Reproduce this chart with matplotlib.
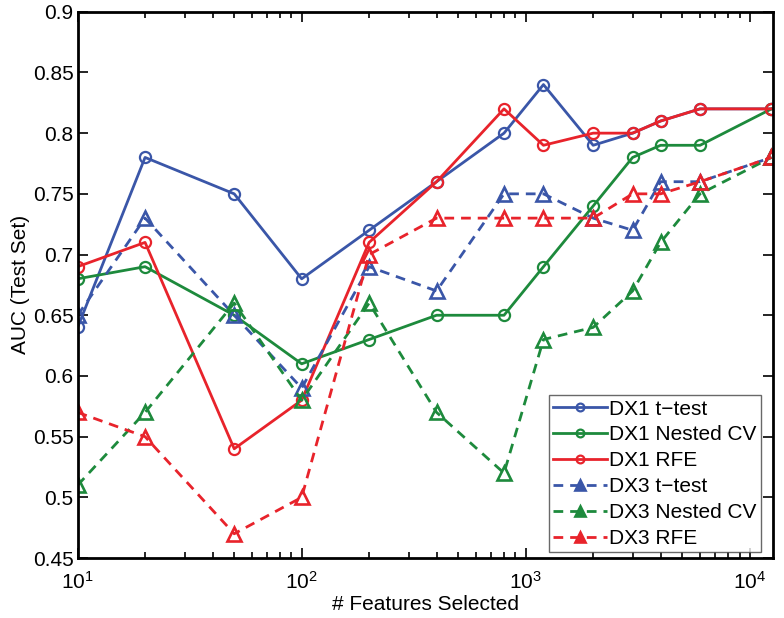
import numpy as np
import matplotlib
matplotlib.use("Agg")
import matplotlib.pyplot as plt
from matplotlib.ticker import LogLocator, FixedLocator

plt.rcParams['font.family'] = ['Liberation Sans', 'DejaVu Sans']

# number of features selected
n_features = [10, 20, 50, 100, 200, 400, 800, 1200, 2000, 3000, 4000, 6000, 12500]

# AUC values
dx1_ttest = [0.64, 0.78, 0.75, 0.68, 0.72, 0.76, 0.80, 0.84, 0.79, 0.80, 0.81, 0.82, 0.82]
dx1_nested = [0.68, 0.69, 0.65, 0.61, 0.63, 0.65, 0.65, 0.69, 0.74, 0.78, 0.79, 0.79, 0.82]
dx1_rfe = [0.69, 0.71, 0.54, 0.58, 0.71, 0.76, 0.82, 0.79, 0.80, 0.80, 0.81, 0.82, 0.82]
dx3_ttest = [0.65, 0.73, 0.65, 0.59, 0.69, 0.67, 0.75, 0.75, 0.73, 0.72, 0.76, 0.76, 0.78]
dx3_nested = [0.51, 0.57, 0.66, 0.58, 0.66, 0.57, 0.52, 0.63, 0.64, 0.67, 0.71, 0.75, 0.78]
dx3_rfe = [0.57, 0.55, 0.47, 0.50, 0.70, 0.73, 0.73, 0.73, 0.73, 0.75, 0.75, 0.76, 0.78]

blue = '#3a56a8'
green = '#1d8a3c'
red = '#e8232b'

fig = plt.figure(figsize=(7.84, 6.18), dpi=100)
ax = fig.add_axes([0.099, 0.097, 0.887, 0.884])

circ = dict(marker='o', markersize=8, markerfacecolor='none', markeredgewidth=1.6, linewidth=2)
tri = dict(marker='^', markersize=9.5, markerfacecolor='none', markeredgewidth=1.9, linewidth=2,
           linestyle=(0, (3.5, 2.5)))

ax.plot(n_features, dx1_ttest, color=blue, label='DX1 t\u2212test', **circ)
ax.plot(n_features, dx1_nested, color=green, label='DX1 Nested CV', **circ)
ax.plot(n_features, dx1_rfe, color=red, label='DX1 RFE', **circ)
ax.plot(n_features, dx3_ttest, color=blue, label='DX3 t\u2212test', **tri)
ax.plot(n_features, dx3_nested, color=green, label='DX3 Nested CV', **tri)
ax.plot(n_features, dx3_rfe, color=red, label='DX3 RFE', **tri)

ax.set_xscale('log')
ax.set_xlim(10, 12700)
ax.set_ylim(0.45, 0.9)
yt = np.round(np.arange(0.45, 0.901, 0.05), 2)
ax.yaxis.set_major_locator(FixedLocator(yt))
ax.set_yticklabels([('%g' % v) for v in yt])
ax.xaxis.set_major_locator(LogLocator(base=10))
ax.xaxis.set_minor_locator(LogLocator(base=10, subs=np.arange(2, 10)))

ax.tick_params(which='both', direction='in', top=True, right=True, labelsize=15, width=1.2)
ax.tick_params(which='major', length=7)
ax.tick_params(axis='y', which='major', pad=3)
ax.tick_params(axis='x', which='major', pad=9)
ax.tick_params(which='minor', length=4)
for s in ax.spines.values():
    s.set_linewidth(2)

ax.set_xlabel('# Features Selected', fontsize=15, labelpad=2)
ax.set_ylabel('AUC (Test Set)', fontsize=15, labelpad=2)

leg = ax.legend(loc='lower right', bbox_to_anchor=(0.982, 0.011), borderaxespad=0,
                fontsize=15, handlelength=2.6, handletextpad=0.1, borderpad=0.2,
                labelspacing=0.33, fancybox=False, markerscale=0.7)
leg.get_frame().set_edgecolor('#444444')
leg.get_frame().set_linewidth(1)
for h in leg.legend_handles[3:]:
    h.set_markerfacecolor(h.get_color())

fig.savefig('out.png', dpi=100)
